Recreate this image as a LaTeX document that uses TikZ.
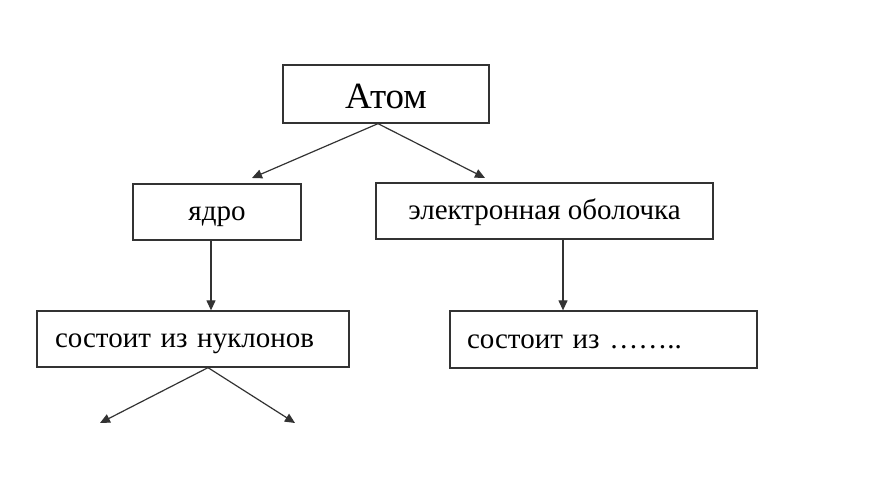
\documentclass[tikz,border=0pt]{standalone}
\usepackage{fontspec}
\setmainfont{Liberation Serif}
\usetikzlibrary{arrows.meta,calc}
\begin{document}
\begin{tikzpicture}[x=1pt,y=-1pt,
  box/.style={draw=black!80, line width=1.3pt, rectangle, inner sep=0pt, text height=21pt, text depth=4pt, font=\fontsize{29}{32}\selectfont},
  lbox/.style={box, align=left, text width=#1},
  con/.style={draw=black!80, line width=1.2pt, -{Triangle[length=10pt,width=9pt]}}]
\useasboundingbox (0,0) rectangle (878,497);
\fill[white] (0,0) rectangle (878,497);
\node[box, minimum width=206, minimum height=58, text height=34pt, text depth=4pt, font=\fontsize{37}{40}\selectfont] (atom) at (386,94) {Атом};
\node[box, minimum width=168, minimum height=56] (yadro) at (217,212) {ядро};
\node[box, minimum width=337, minimum height=56] (elec) at (544.5,211) {электронная оболочка};
\node[lbox=276, inner xsep=18pt, minimum height=56] (nuk) at (193,339) {состоит из нуклонов};
\node[lbox=273, inner xsep=17pt, minimum height=57] (sost) at (603.5,339.5) {состоит из ……..};
\coordinate (a0) at ($(atom.south)+(-8,0)$);
\coordinate (t1) at (252,178);
\coordinate (t2) at (485,178);
\coordinate (n0) at ($(nuk.south)+(15,0)$);
\coordinate (t3) at (100,423);
\coordinate (t4) at (295,423);
\draw[con] (a0) -- (t1);
\draw[con] (a0) -- (t2);
\draw[con] ($(yadro.south)+(-6,0)$) -- ($(nuk.north)+(18,0)$);
\draw[con] ($(elec.south)+(18.5,0)$) -- ($(sost.north)+(-40.5,0)$);
\draw[con] (n0) -- (t3);
\draw[con] (n0) -- (t4);
\end{tikzpicture}
\end{document}
